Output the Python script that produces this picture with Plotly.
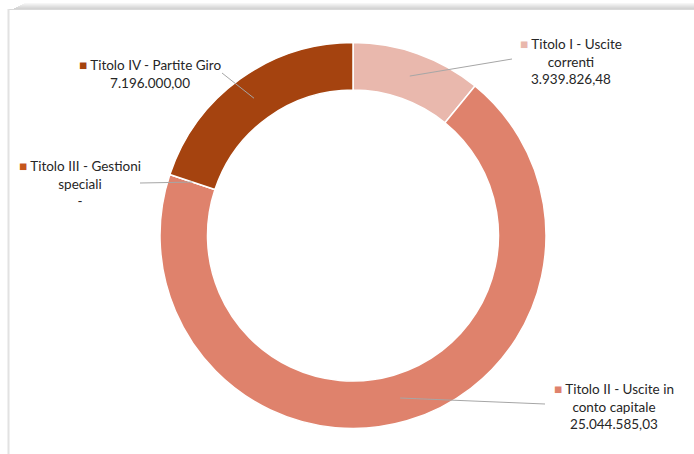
import math
import plotly.graph_objects as go

# Spending by "Titolo" (euro)
labels = [
    "Titolo I - Uscite correnti",
    "Titolo II - Uscite in conto capitale",
    "Titolo III - Gestioni speciali",
    "Titolo IV - Partite Giro",
]
label_lines = [
    ["Titolo I - Uscite", "correnti"],
    ["Titolo II - Uscite in", "conto capitale"],
    ["Titolo III - Gestioni", "speciali"],
    ["Titolo IV - Partite Giro"],
]
values = [3939826.48, 25044585.03, 0.0, 7196000.00]
colors = ["#E9B8AD", "#DF826C", "#C5561C", "#A5430F"]

W, H = 694, 454
CX, CY, R_OUT, R_IN = 353, 235.5, 193, 145.5

# label block centres (pixels) and leader-line end points
label_pos = [(571, 62), (614, 406), (80, 183), (150, 74)]
leader_end = [(512, 59), (545, 404), (140, 183), (222, 73)]


def fmt_it(v):
    if v == 0:
        return "-"
    s = f"{v:,.2f}"
    return s.replace(",", "X").replace(".", ",").replace("X", ".")


def px(x):
    return x / W


def py(y):
    return 1 - y / H


fig = go.Figure(
    go.Pie(
        labels=labels,
        values=values,
        hole=R_IN / R_OUT,
        sort=False,
        direction="clockwise",
        rotation=0,
        marker=dict(colors=colors, line=dict(color="white", width=1.5)),
        textinfo="none",
        showlegend=False,
        domain=dict(
            x=[px(CX - R_OUT), px(CX + R_OUT)],
            y=[py(CY + R_OUT), py(CY - R_OUT)],
        ),
    )
)

shapes = []
# frame: soft shadow along the top and a thin grey edge on the left
shadow = ["#F6F6F6", "#EFEFEF", "#E8E8E8", "#E1E1E1", "#DADADA", "#D4D4D4"]
for i, c in enumerate(shadow):
    y0 = 3 + i
    shapes.append(dict(type="rect", xref="paper", yref="paper",
                       x0=px(14 + (5 - i) * 2), x1=1, y0=py(y0 + 1), y1=py(y0),
                       fillcolor=c, line=dict(width=0), layer="below"))
shapes.append(dict(type="rect", xref="paper", yref="paper",
                   x0=px(8), x1=1, y0=py(10), y1=py(9),
                   fillcolor="#D9D9D9", line=dict(width=0), layer="below"))
shapes.append(dict(type="rect", xref="paper", yref="paper",
                   x0=px(7.5), x1=px(9.5), y0=0, y1=py(9),
                   fillcolor="#E2E2E2", line=dict(width=0), layer="below"))

# leader lines from the middle of each ring segment to its label
total = sum(values)
r_mid = (R_OUT + R_IN) / 2
start = 0.0
annotations = []
for i, v in enumerate(values):
    frac = v / total
    mid = (start + frac / 2) * 2 * math.pi
    start += frac
    sx = CX + r_mid * math.sin(mid)
    sy = CY - r_mid * math.cos(mid)
    ex, ey = leader_end[i]
    shapes.append(dict(type="line", xref="paper", yref="paper",
                       x0=px(sx), y0=py(sy), x1=px(ex), y1=py(ey),
                       line=dict(color="#A6A6A6", width=1)))
    lines = list(label_lines[i])
    lines[0] = f'<span style="color:{colors[i]}">■</span> ' + lines[0]
    lines.append(fmt_it(v))
    lx, ly = label_pos[i]
    annotations.append(dict(
        x=px(lx), y=py(ly), xref="paper", yref="paper",
        text="<br>".join(lines), showarrow=False,
        xanchor="center", yanchor="middle", align="center",
        font=dict(family="Lato", size=13.5, color="#262626"),
    ))

fig.update_layout(
    width=W, height=H,
    margin=dict(l=0, r=0, t=0, b=0),
    paper_bgcolor="white",
    plot_bgcolor="white",
    shapes=shapes,
    annotations=annotations,
)

fig.write_html("out.html")
